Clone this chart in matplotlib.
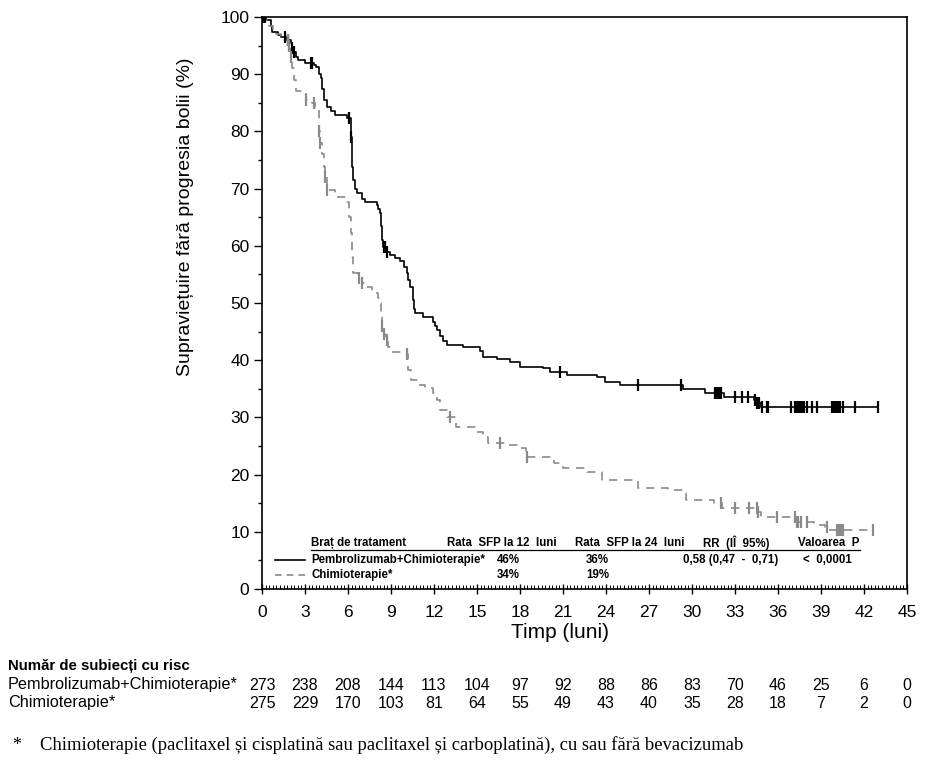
import numpy as np
import matplotlib
matplotlib.use('Agg')
import matplotlib.pyplot as plt
from matplotlib import transforms

# 数据：Kaplan-Meier 阶梯 (时间, 生存率)
pem_t = [0, 0.3, 0.6, 0.7, 1.1, 1.3, 1.7, 2.0, 2.1, 2.2, 2.4, 2.5, 3.0, 3.6, 3.8,
         4.0, 4.1, 4.2, 4.3, 4.5, 4.8, 5.1, 5.9, 6.2, 6.25, 6.3, 6.35, 6.5, 6.6,
         7.0, 7.2, 8.0, 8.1, 8.2, 8.3, 8.4, 8.45, 8.7, 8.9, 9.3, 9.6, 9.9, 10.1,
         10.2, 10.3, 10.5, 10.6, 10.7, 11.2, 11.9, 12.1, 12.2, 12.4, 12.6, 12.9,
         14.0, 15.2, 15.4, 16.4, 17.3, 18.0, 19.6, 20.1, 21.3, 23.4, 23.9, 25.0,
         29.4, 30.9, 32.2, 34.3, 34.5, 34.8, 43.0]
pem_s = [100, 99.5, 98.5, 97.4, 96.8, 96.5, 96.0, 95.5, 94.5, 93.9, 93.0, 92.5,
         92.0, 91.6, 91.3, 90.0, 89.3, 87.5, 85.5, 84.3, 83.5, 82.9, 82.3, 79.0,
         76.7, 73.8, 71.5, 69.9, 69.2, 68.2, 67.7, 67.2, 66.5, 65.7, 63.5, 61.0,
         59.8, 58.9, 58.4, 57.8, 57.3, 56.3, 55.2, 54.0, 52.8, 50.5, 49.0, 48.3,
         47.6, 46.7, 46.0, 45.3, 44.3, 43.3, 42.7, 42.3, 41.6, 40.6, 40.2, 39.7,
         38.8, 38.6, 37.9, 37.4, 37.1, 36.2, 35.7, 35.0, 34.3, 33.6, 33.1, 32.5,
         31.8, 31.8]
pem_cens = [0.1, 0.2, 1.6, 1.8, 2.1, 2.2, 3.4, 3.5, 6.1, 6.2, 8.5, 8.6, 8.7, 20.8,
            26.2, 29.2, 31.6, 31.7, 31.8, 31.9, 32.0, 33.0, 33.5, 33.9, 34.4, 34.5,
            34.6, 34.7, 34.9, 35.2, 35.3, 36.9, 37.2, 37.3, 37.4, 37.5, 37.6, 37.7,
            37.8, 38.0, 38.4, 38.7, 39.8, 39.9, 40.0, 40.1, 40.2, 40.3, 40.5, 41.4,
            43.0]

chemo_t = [0, 0.2, 0.5, 0.8, 1.0, 1.3, 1.6, 1.9, 2.0, 2.1, 2.2, 2.4, 2.9, 3.1, 3.5,
           3.7, 3.9, 4.0, 4.05, 4.2, 4.3, 4.4, 4.5, 5.1, 5.9, 6.1, 6.2, 6.3, 6.35,
           6.7, 7.0, 7.2, 7.7, 8.1, 8.2, 8.3, 8.4, 8.5, 8.6, 8.8, 9.0, 10.1, 10.2,
           10.4, 10.9, 11.4, 11.9, 12.2, 12.4, 12.9, 13.5, 14.9, 15.4, 15.8, 17.1,
           17.8, 18.4, 20.4, 21.0, 22.7, 23.7, 26.2, 28.3, 29.4, 29.6, 31.5, 32.1,
           34.6, 34.8, 37.3, 38.5, 39.3, 39.5, 42.6]
chemo_s = [100, 99.5, 98.5, 97.5, 97.0, 96.5, 96.0, 95.0, 93.0, 91.0, 89.0, 87.0,
           86.7, 85.5, 85.0, 84.1, 83.7, 80.0, 78.0, 76.0, 73.8, 72.0, 69.8, 68.5,
           67.7, 65.0, 62.2, 58.0, 55.2, 54.3, 53.5, 52.8, 51.7, 50.9, 50.0, 47.5,
           46.0, 44.5, 43.5, 42.3, 41.5, 41.0, 38.3, 36.5, 35.7, 35.1, 34.3, 33.0,
           31.3, 30.1, 28.3, 27.4, 26.6, 25.5, 25.2, 24.7, 23.0, 22.0, 21.2, 20.5,
           19.0, 17.7, 17.3, 16.8, 15.6, 15.0, 14.2, 13.4, 12.6, 11.7, 11.2, 10.8,
           10.3, 10.3]
chemo_cens = [1.8, 1.9, 2.0, 3.1, 3.6, 4.0, 4.05, 4.4, 4.5, 6.8, 7.0, 8.4, 8.5, 8.7,
              10.1, 13.1, 16.6, 18.5, 32.0, 33.0, 34.0, 34.5, 34.6, 35.9, 37.2, 37.3,
              37.4, 37.6, 38.0, 39.4, 40.1, 40.2, 40.3, 40.4, 40.5, 42.6]

risk_times = list(range(0, 46, 3))
risk_pem = [273, 238, 208, 144, 113, 104, 97, 92, 88, 86, 83, 70, 46, 25, 6, 0]
risk_chemo = [275, 229, 170, 103, 81, 64, 55, 49, 43, 40, 35, 28, 18, 7, 2, 0]

arm_names = ['Pembrolizumab+Chimioterapie*', 'Chimioterapie*']
headers = ['Braț de tratament', 'Rata  SFP la 12  luni', 'Rata  SFP la 24  luni',
           'RR  (IÎ  95%)', 'Valoarea  P']
rate12 = ['46%', '34%']
rate24 = ['36%', '19%']
hr_text = ['0,58 (0,47  -  0,71)', '']
p_text = ['<  0,0001', '']

SANS = ['Liberation Sans', 'DejaVu Sans']
SERIF = ['Liberation Serif', 'DejaVu Serif']
GRAY = '#8a8a8a'


def step_value(times, surv, t):
    i = np.searchsorted(times, t, side='right') - 1
    return np.asarray(surv)[i]


W, H = 925, 764
fig = plt.figure(figsize=(W / 100, H / 100), dpi=100)
ax = fig.add_axes([262 / W, 1 - 589 / H, 645 / W, 572 / H])


def fx(px):
    return px / W


def fy(py):
    return 1 - py / H


# 曲线
ax.plot(pem_t, pem_s, drawstyle='steps-post', color='black', lw=1.2)
ax.plot(chemo_t, chemo_s, drawstyle='steps-post', color=GRAY, lw=1.2,
        linestyle=(0, (5, 4)))
ax.plot(pem_cens, step_value(pem_t, pem_s, pem_cens), linestyle='none',
        marker='|', ms=9, mew=1.6, color='black')
ax.plot(chemo_cens, step_value(chemo_t, chemo_s, chemo_cens), linestyle='none',
        marker='|', ms=9, mew=1.6, color=GRAY)

ax.set_xlim(0, 45)
ax.set_ylim(0, 100)
ax.set_xticks(risk_times)
ax.set_xticks(np.arange(0, 45.01, 0.25), minor=True)
ax.set_yticks(range(0, 101, 10))
ax.set_yticks(range(5, 100, 10), minor=True)
ax.tick_params(axis='x', which='major', direction='inout', length=7, width=1,
               labelsize=12.5, pad=8)
ax.tick_params(axis='x', which='minor', direction='in', length=3, width=0.7)
ax.tick_params(axis='y', which='major', direction='out', length=6, width=1,
               labelsize=12.5, pad=3)
ax.tick_params(axis='y', which='minor', direction='out', length=3, width=1)
for lab in ax.get_xticklabels() + ax.get_yticklabels():
    lab.set_family(SANS)
for sp in ax.spines.values():
    sp.set_linewidth(1.2)

fig.text(fx(560), fy(633), 'Timp (luni)', family=SANS, fontsize=15,
         ha='center', va='center')
fig.text(fx(186), fy(57), 'Supraviețuire fără progresia bolii (%)', family=SANS,
         fontsize=14, rotation=90, ha='center', va='top')

# 图内表格
bold = dict(family=SANS, fontsize=8.3, fontweight='bold', va='center', ha='left')
hdr_x = [311, 447, 575, 703, 798]
for x, h in zip(hdr_x, headers):
    fig.text(fx(x), fy(543), h, **bold)
fig.add_artist(plt.Line2D([fx(311), fx(860)], [fy(550), fy(550)], color='black',
                          lw=0.9))

row_y = [560, 575]
styles = [dict(color='black', ls='-'), dict(color=GRAY, ls=(0, (4, 3)))]
for i in range(2):
    fig.add_artist(plt.Line2D([fx(275), fx(305)], [fy(row_y[i]), fy(row_y[i])],
                              lw=1.2, **styles[i]))
    fig.text(fx(311), fy(row_y[i]), arm_names[i], **bold)
    fig.text(fx(497), fy(row_y[i]), rate12[i], **bold)
    fig.text(fx(586), fy(row_y[i]), rate24[i], **bold)
    fig.text(fx(683), fy(row_y[i]), hr_text[i], **bold)
    fig.text(fx(803), fy(row_y[i]), p_text[i], **bold)

# 风险人数表
tr = transforms.blended_transform_factory(ax.transData, fig.transFigure)
fig.text(fx(8), fy(666), 'Număr de subiecți cu risc', family=SANS, fontsize=10.8,
         fontweight='bold', ha='left', va='center')
for lab, vals, py in [(arm_names[0], risk_pem, 685), (arm_names[1], risk_chemo, 703)]:
    fig.text(fx(8), fy(py), lab, family=SANS, fontsize=11.7, ha='left', va='center')
    for t, v in zip(risk_times, vals):
        ax.text(t, fy(py), str(v), transform=tr, family=SANS, fontsize=11.5,
                ha='center', va='center', clip_on=False)

fig.text(fx(12), fy(745), '*', family=SERIF, fontsize=13, ha='left', va='center')
fig.text(fx(40), fy(745),
         'Chimioterapie (paclitaxel și cisplatină sau paclitaxel și carboplatină), '
         'cu sau fără bevacizumab', family=SERIF, fontsize=13.4,
         ha='left', va='center')

fig.savefig('out.png', dpi=100)
